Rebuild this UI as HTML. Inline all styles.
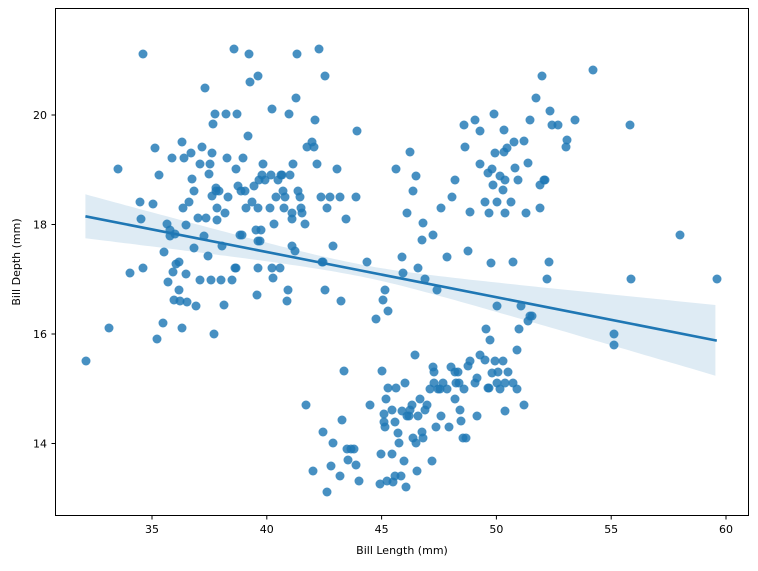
<!DOCTYPE html>
<html><head><meta charset="utf-8"><style>
body{margin:0;background:#fff;}
svg text{font-family:"DejaVu Sans","Liberation Sans",sans-serif;font-size:11px;fill:#000;}
</style></head><body>
<svg id="s" width="758" height="566" xmlns="http://www.w3.org/2000/svg">
<rect x="0" y="0" width="758" height="566" fill="#fff"/>
<path id="band" fill="#1f77b4" fill-opacity="0.15" stroke="none"/>
<g id="pts" fill="#1f77b4" fill-opacity="0.82"></g>
<line x1="85.4" y1="216.3" x2="716.8" y2="340.6" stroke="#1f77b4" stroke-width="2.6"/>
<rect x="55.5" y="8.5" width="693" height="507" fill="none" stroke="#000" stroke-width="1"/>
<g id="ticks" stroke="#000" stroke-width="1"></g>
<g id="labels"></g>
<text x="402" y="554" text-anchor="middle">Bill Length (mm)</text>
<text transform="translate(20,262) rotate(-90)" text-anchor="middle">Bill Depth (mm)</text>
</svg>
<script>
var P=[[86,361],[109,328],[118,169],[130,273],[140,202],[141,219],[143,268],[143,54],[153,204],[155,148],[157,339],[159,175],[163,323],[164,252],[167,224],[168,282],[170,230],[170,236],[172,158],[173,272],[174,300],[175,234],[176,264],[179,290],[179,262],[180,301],[182,142],[182,328],[183,208],[184,158],[186,225],[186,274],[187,302],[189,202],[191,153],[192,179],[194,191],[194,248],[196,306],[198,218],[200,280],[200,164],[202,147],[204,236],[205,88],[206,218],[208,256],[209,174],[210,164],[211,280],[212,153],[212,196],[213,124],[214,334],[215,114],[216,191],[216,188],[217,208],[217,220],[219,191],[221,280],[222,246],[224,305],[225,213],[226,114],[227,158],[228,197],[232,280],[234,49],[235,268],[236,169],[236,268],[237,114],[238,186],[240,235],[241,191],[242,235],[243,158],[245,191],[246,208],[248,136],[249,54],[250,82],[252,202],[254,186],[256,230],[257,295],[258,241],[258,268],[258,208],[258,76],[259,180],[260,241],[261,230],[262,175],[263,164],[265,180],[270,208],[271,175],[272,109],[272,268],[273,278],[274,224],[276,197],[278,180],[280,268],[281,175],[283,191],[284,208],[282,175],[285,197],[287,301],[288,290],[289,114],[290,175],[292,246],[292,213],[292,219],[293,164],[295,251],[296,98],[297,54],[298,191],[300,197],[301,208],[302,213],[305,224],[307,147],[312,142],[314,147],[315,120],[317,164],[319,49],[321,197],[322,262],[323,262],[325,76],[325,290],[327,208],[330,197],[333,246],[337,169],[340,197],[341,301],[346,219],[356,197],[357,131],[367,262],
[306,405],[313,471],[323,432],[327,492],[331,466],[333,443],[340,476],[342,420],[344,371],[347,449],[348,460],[351,449],[354,449],[356,465],[359,481],[370,405],[380,484],[381,454],[382,371],[384,414],[384,422],[385,427],[386,399],[387,481],[388,388],[392,454],[392,410],[393,482],[395,422],[395,476],[396,388],[398,433],[399,443],[401,476],[402,411],[404,461],[405,383],[406,487],[407,416],[409,416],[410,410],[412,405],[413,438],[415,355],[416,443],[417,471],[418,416],[420,399],[422,432],[423,438],[425,410],[427,405],[430,389],[432,461],[433,367],[434,372],[436,427],[438,389],[440,389],[441,416],[443,383],[447,389],[449,427],[451,367],[455,399],[456,383],[458,372],[459,383],[460,410],[461,421],[463,438],[464,389],[466,438],[468,366],[475,383],[477,416],[477,378],[480,355],[485,360],[486,329],[488,388],[489,388],[490,340],[492,373],[495,361],[497,383],[498,372],[500,389],[503,361],[505,383],[508,372],[513,383],[517,389],[519,329],[524,405],[528,321],[530,316],[614,334],[434,383],[455,372],[470,361],[505,411],
[376,319],[383,300],[385,290],[388,311],[396,169],[402,257],[403,273],[407,213],[410,152],[413,191],[416,176],[418,268],[422,240],[423,223],[425,279],[433,235],[437,290],[441,208],[447,257],[452,197],[455,180],[464,125],[465,147],[468,251],[470,212],[475,120],[480,131],[485,202],[488,173],[489,213],[491,263],[492,169],[493,185],[494,114],[495,153],[497,202],[500,176],[503,190],[505,180],[507,148],[511,202],[513,262],[514,142],[515,168],[518,180],[521,306],[524,141],[526,213],[528,163],[530,120],[536,98],[540,185],[540,208],[542,76],[544,180],[545,180],[547,279],[549,262],[550,111],[552,125],[558,125],[566,147],[567,140],[575,120],[593,70],[614,345],[630,125],[631,279],[680,235],[717,279],[505,213],[480,164],[497,306],[517,350],[532,316],[504,130],[504,152]];
var ns="http://www.w3.org/2000/svg",g=document.getElementById('pts');
P.forEach(function(p){var c=document.createElementNS(ns,'circle');c.setAttribute('cx',p[0]);c.setAttribute('cy',p[1]);c.setAttribute('r',4.5);g.appendChild(c);});
function ly(x){return 216.3+(x-85.4)*(340.6-216.3)/(716.8-85.4);}
function hw(x){var d=x-359,b=d<0?0.00597:0.00955;return Math.sqrt(36+b*d*d);}
var up=[],dn=[];for(var x=85.4;x<=717;x+=5){up.push(x.toFixed(1)+','+(ly(x)-hw(x)).toFixed(1));dn.unshift(x.toFixed(1)+','+(ly(x)+hw(x)).toFixed(1));}
document.getElementById('band').setAttribute('d','M'+up.join('L')+'L'+dn.join('L')+'Z');
var t=document.getElementById('ticks'),L=document.getElementById('labels');
function ln(a,b,c,d){var l=document.createElementNS(ns,'line');l.setAttribute('x1',a);l.setAttribute('y1',b);l.setAttribute('x2',c);l.setAttribute('y2',d);t.appendChild(l);}
function tx(x,y,s,a){var e=document.createElementNS(ns,'text');e.setAttribute('x',x);e.setAttribute('y',y);e.setAttribute('text-anchor',a);e.textContent=s;L.appendChild(e);}
[35,40,45,50,55,60].forEach(function(v){var x=152+(v-35)*22.96;ln(x,515.5,x,519.5);tx(x,533,v,'middle');});
[14,16,18,20].forEach(function(v){var y=115+(20-v)*54.75;ln(51.5,y,55.5,y);tx(47,y+4,v,'end');});
</script>
</body></html>
